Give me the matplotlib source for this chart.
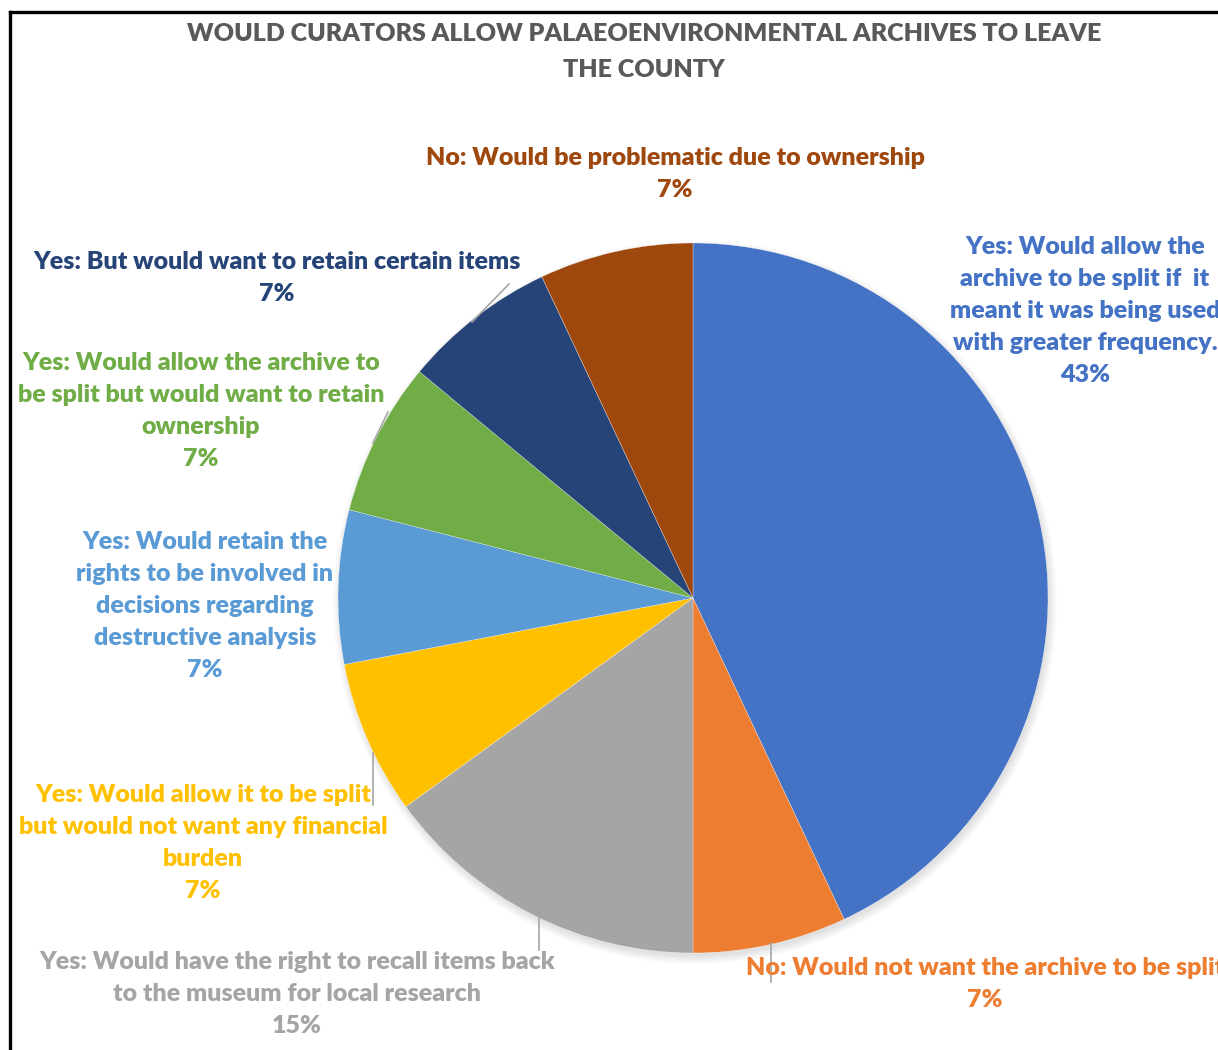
import matplotlib.pyplot as plt
from matplotlib.patches import Circle

# survey answers, clockwise from 12 o'clock
labels = [
    "Yes: Would allow the\narchive to be split if  it\nmeant it was being used\nwith greater frequency.",
    "No: Would not want the archive to be split",
    "Yes: Would have the right to recall items back\nto the museum for local research",
    "Yes: Would allow it to be split\nbut would not want any financial\nburden",
    "Yes: Would retain the\nrights to be involved in\ndecisions regarding\ndestructive analysis",
    "Yes: Would allow the archive to\nbe split but would want to retain\nownership",
    "Yes: But would want to retain certain items",
    "No: Would be problematic due to ownership",
]
shares = [43, 7, 15, 7, 7, 7, 7, 7]
colors = ["#4472C4", "#ED7D31", "#A5A5A5", "#FFC000",
          "#5B9BD5", "#70AD47", "#264478", "#9E480E"]

# label anchor (centre of text block) and leader line, in pixel coords
label_pos = [(1085, 311), (985, 984), (297, 994), (203, 843),
             (205, 606), (201, 411), (277, 278), (675, 174)]
leaders = {1: [(771, 943), (771, 982)],
           2: [(539, 918), (539, 950)],
           3: [(373, 753), (373, 805)],
           5: [(373, 443), (388, 412)],
           6: [(472, 322), (509, 284)]}

W, H = 1218, 1050
cx, cy, r = 693, 598, 355

plt.rcParams['font.family'] = ['Lato', 'DejaVu Sans']
fig = plt.figure(figsize=(W / 100, H / 100), dpi=100)
ax = fig.add_axes([0, 0, 1, 1])

# soft shadow under the pie
for k in range(10):
    ax.add_patch(Circle((cx + 2, H - cy - 4), r + 7 - k * 0.9,
                        color='black', alpha=0.012, lw=0, zorder=1))

ax.pie(shares, colors=colors, startangle=90, counterclock=False,
       center=(cx, H - cy), radius=r, frame=True,
       wedgeprops=dict(edgecolor='white', linewidth=0.2, zorder=2))
ax.set_xlim(0, W)
ax.set_ylim(0, H)
ax.set_aspect('equal')
ax.axis('off')

for i, (lab, val) in enumerate(zip(labels, shares)):
    x, y = label_pos[i]
    ax.text(x, H - y, f"{lab}\n{val}%", color=colors[i], fontsize=18,
            fontweight='heavy', ha='center', va='center',
            linespacing=1.56, zorder=4, clip_on=False)

for i, pts in leaders.items():
    (x0, y0), (x1, y1) = pts
    ax.plot([x0, x1], [H - y0, H - y1], color='#A6A6A6', lw=1.2, zorder=3)

ax.text(644, H - 52,
        "WOULD CURATORS ALLOW PALAEOENVIRONMENTAL ARCHIVES TO LEAVE\nTHE COUNTY",
        color='#595959', fontsize=18, fontweight='heavy', ha='center',
        va='center', linespacing=1.75)

# chart frame (left and top edges)
ax.plot([10, 10], [0, H - 12], color='black', lw=2.4, solid_capstyle='projecting')
ax.plot([10, W], [H - 12, H - 12], color='black', lw=2.4, solid_capstyle='projecting')

fig.savefig('out.png', dpi=100)
